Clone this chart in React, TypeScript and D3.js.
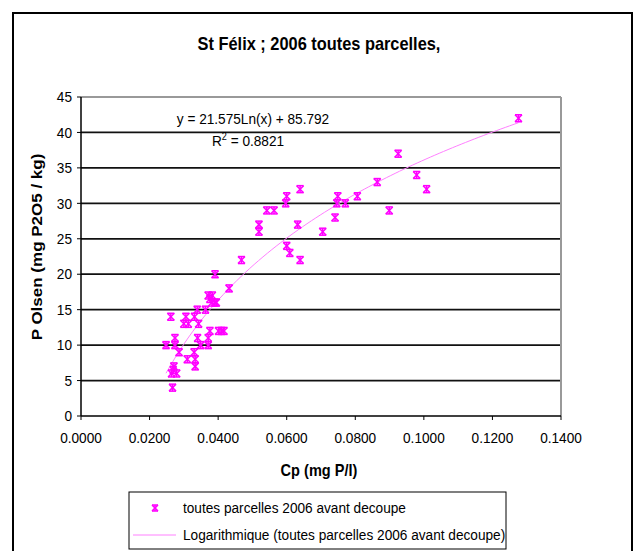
import React from "react";
import * as d3 from "d3";

const cpValues = [
  0.0248, 0.0262, 0.0264, 0.0267, 0.0269, 0.0271, 0.0274, 0.0274, 0.0279, 0.0286,
  0.0300, 0.0306, 0.0313, 0.0310, 0.0330, 0.0331, 0.0333, 0.0333, 0.0339, 0.0340,
  0.0343, 0.0349, 0.0363, 0.0371, 0.0371, 0.0371, 0.0376, 0.0376, 0.0383, 0.0382,
  0.0391, 0.0395, 0.0391, 0.0401, 0.0410, 0.0417, 0.0432, 0.0468, 0.0519, 0.0519,
  0.0542, 0.0563, 0.0597, 0.0600, 0.0600, 0.0609, 0.0632, 0.0639, 0.0639, 0.0705,
  0.0741, 0.0746, 0.0749, 0.0771, 0.0806, 0.0864, 0.0899, 0.0925, 0.0979, 0.1008,
  0.1276,
];
const pOlsenValues = [
  10, 14, 6, 4, 6.5, 7, 11, 10, 6, 9,
  13, 14, 13, 8, 9, 14, 8, 7, 15, 11,
  13, 10, 15, 17, 11, 10, 12, 16.5, 17, 16,
  16, 16, 20, 12, 12, 12, 18, 22, 27, 26,
  29, 29, 30, 31, 24, 23, 27, 32, 22, 26,
  28, 30, 31, 30, 31, 33, 29, 37, 34, 32,
  42,
];
const xTicks = [0, 0.02, 0.04, 0.06, 0.08, 0.1, 0.12, 0.14];
const yTicks = [0, 5, 10, 15, 20, 25, 30, 35, 40, 45];
const trendA = 21.575;
const trendB = 85.792;

const FONT = "'Liberation Sans', Arial, sans-serif";
const MAGENTA = "#FF00FF";
const SQUEEZE = 0.91;

function T({ x, y, size, anchor = "start", bold = false, rotate = 0, children }: any) {
  return (
    <g transform={`translate(${x},${y}) scale(${SQUEEZE},1)${rotate ? ` rotate(${rotate})` : ""}`}>
      <text x={0} y={0} dy="0.35em" textAnchor={anchor} fontSize={size}
        fontWeight={bold ? "bold" : "normal"}>
        {children}
      </text>
    </g>
  );
}

function Star({ x, y, s = 3.5 }: { x: number; y: number; s?: number }) {
  return (
    <g stroke={MAGENTA} strokeWidth={1.5} fill="none">
      <line x1={x - s} y1={y - s} x2={x + s} y2={y + s} />
      <line x1={x - s} y1={y + s} x2={x + s} y2={y - s} />
      <line x1={x} y1={y - s} x2={x} y2={y + s} />
      <line x1={x - s} y1={y - s} x2={x + s} y2={y - s} />
      <line x1={x - s} y1={y + s} x2={x + s} y2={y + s} />
    </g>
  );
}

export default function App() {
  const W = 634;
  const H = 551;
  const left = 81, right = 561, top = 97, bottom = 416;
  const x = d3.scaleLinear().domain([0, 0.14]).range([left, right]);
  const y = d3.scaleLinear().domain([0, 45]).range([bottom, top]);

  const xmin = d3.min(cpValues) as number;
  const xmax = d3.max(cpValues) as number;
  const trendXs = d3.range(0, 81).map((i) => xmin + ((xmax - xmin) * i) / 80);
  const line = d3
    .line<number>()
    .x((d) => x(d))
    .y((d) => y(trendA * Math.log(d) + trendB));

  return (
    <div style={{ position: "absolute", left: 0, top: 0 }}>
      <svg width={W} height={H} style={{ display: "block" }} fontFamily={FONT}>
        <rect x={0} y={0} width={W} height={H} fill="#fff" />
        <rect x={13} y={13} width={619} height={560} fill="none" stroke="#000" strokeWidth={2} />
        <T x={319} y={44} size={18} anchor="middle" bold>St Félix ; 2006 toutes parcelles,</T>

        {yTicks.slice(1).map((t) => (
          <line key={"g" + t} x1={left} x2={right} y1={y(t)} y2={y(t)}
            stroke={t === 45 ? "#999" : "#111"} strokeWidth={t === 45 ? 2 : 1.7} />
        ))}
        <line x1={right} x2={right} y1={top} y2={bottom} stroke="#999" strokeWidth={2} />
        <line x1={left} x2={left} y1={top} y2={bottom} stroke="#000" strokeWidth={1.5} />
        <line x1={left} x2={right} y1={bottom} y2={bottom} stroke="#000" strokeWidth={1.5} />

        {yTicks.map((t) => (
          <g key={"y" + t}>
            <line x1={left - 4} x2={left} y1={y(t)} y2={y(t)} stroke="#000" strokeWidth={1} />
            <T x={left - 9} y={y(t)} size={15} anchor="end">{t}</T>
          </g>
        ))}
        {xTicks.map((t) => (
          <g key={"x" + t}>
            <line x1={x(t)} x2={x(t)} y1={bottom} y2={bottom + 4} stroke="#000" strokeWidth={1} />
            <T x={x(t)} y={438} size={15} anchor="middle">{t.toFixed(4)}</T>
          </g>
        ))}

        <T x={319} y={470} size={16} anchor="middle" bold>Cp (mg P/l)</T>
        <T x={37} y={247} size={17} anchor="middle" bold rotate={-90}>P Olsen (mg P2O5 / kg)</T>

        <path d={line(trendXs) || ""} fill="none" stroke="#FF80FF" strokeWidth={1} />

        {cpValues.map((c, i) => (
          <Star key={i} x={x(c)} y={y(pOlsenValues[i])} />
        ))}

        <T x={253} y={119} size={15} anchor="middle">y = 21.575Ln(x) + 85.792</T>
        <g transform={`translate(248,141) scale(${SQUEEZE},1)`}>
          <text x={0} y={0} dy="0.35em" textAnchor="middle" fontSize={15}>
            R<tspan dy="-6" fontSize={10}>2</tspan><tspan dy="6"> = 0.8821</tspan>
          </text>
        </g>

        <rect x={129} y={492} width={377} height={57} fill="#fff" stroke="#000" strokeWidth={1} />
        <Star x={155} y={508} s={3} />
        <T x={183} y={508} size={15}>toutes parcelles 2006 avant decoupe</T>
        <line x1={133} x2={176} y1={535} y2={535} stroke="#FF80FF" strokeWidth={1} />
        <T x={183} y={535} size={15}>Logarithmique (toutes parcelles 2006 avant decoupe)</T>
      </svg>
    </div>
  );
}
